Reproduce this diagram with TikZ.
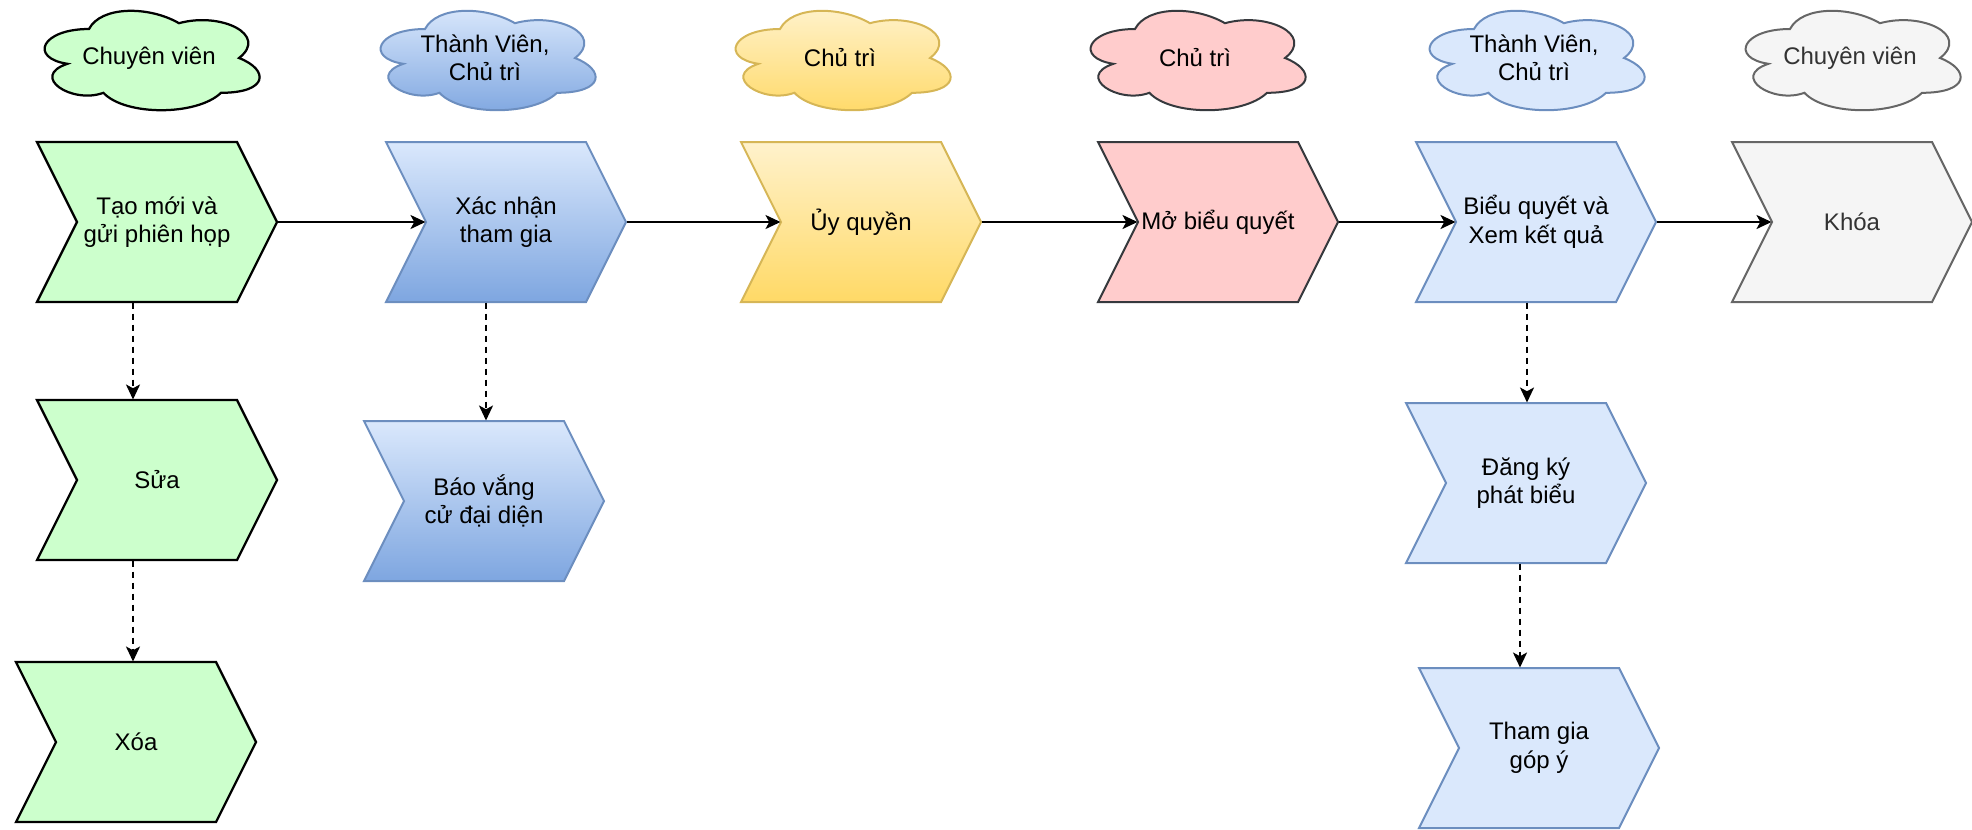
\documentclass[tikz,border=0pt]{standalone}
\usepackage{fontspec}
\setmainfont{Liberation Sans}
\usetikzlibrary{arrows.meta,calc}
\definecolor{cGreen}{HTML}{CCFFCC}
\definecolor{cBlueT}{HTML}{DAE8FC}
\definecolor{cBlueB}{HTML}{7EA6E0}
\definecolor{cBlueS}{HTML}{6C8EBF}
\definecolor{cYelT}{HTML}{FFF2CC}
\definecolor{cYelB}{HTML}{FFD966}
\definecolor{cYelS}{HTML}{D6B656}
\definecolor{cPink}{HTML}{FFCCCC}
\definecolor{cPinkS}{HTML}{36393D}
\definecolor{cLBlue}{HTML}{DAE8FC}
\definecolor{cGrey}{HTML}{F5F5F5}
\definecolor{cGreyS}{HTML}{666666}
\definecolor{cGreyT}{HTML}{333333}
\newcommand{\MkChev}[5]{%
  \path[#4] (#2,#3) -- ++(200,0) -- ++(40,80) -- ++(-40,80) -- ++(-200,0) -- ++(40,-80) -- cycle;
  \node[chevtext] (#1) at ({#2+120},{#3+80}) {#5};
}
\newcommand{\MkCloud}[5]{%
  \begin{scope}[shift={(#2,#3)}]
  \path[#4] (60,29) .. controls (12,29) and (0,58) .. (38.4,63.8)
    .. controls (0,76.56) and (43.2,104.4) .. (74.4,92.8)
    .. controls (96,116) and (168,116) .. (192,92.8)
    .. controls (240,92.8) and (240,69.6) .. (210,58)
    .. controls (240,34.8) and (192,11.6) .. (150,23.2)
    .. controls (120,5.8) and (72,5.8) .. (60,29) -- cycle;
  \node[cloudtext] (#1) at (120,58) {#5};
  \end{scope}
}
\tikzset{
  gr/.style={fill=cGreen, draw=black, line width=0.9pt},
  bl/.style={top color=cBlueT, bottom color=cBlueB, draw=cBlueS, line width=0.8pt},
  ye/.style={top color=cYelT, bottom color=cYelB, draw=cYelS, line width=0.8pt},
  pk/.style={fill=cPink, draw=cPinkS, line width=0.8pt},
  lb/.style={fill=cLBlue, draw=cBlueS, line width=0.8pt},
  gy/.style={fill=cGrey, draw=cGreyS, line width=0.8pt},
  chevtext/.style={minimum width=96pt, minimum height=64pt, inner sep=0pt, align=center,
    font=\fontsize{9.6}{11.4}\selectfont},
  cloudtext/.style={inner sep=0pt, align=center, font=\fontsize{9.6}{11.4}\selectfont},
  flow/.style={line width=0.8pt, -{Stealth[length=6pt,width=5.6pt,inset=1.5pt]}},
  dflow/.style={line width=0.8pt, dash pattern=on 2.4pt off 2pt, -{Stealth[length=6pt,width=5.6pt,inset=1.5pt]}}
}
\begin{document}
\begin{tikzpicture}[x=0.4pt,y=-0.4pt]
\useasboundingbox (0,0) rectangle (1972,829);
% clouds
\MkCloud{r1}{29}{0}{gr}{Chuyên viên}
\MkCloud{r2}{365}{0}{bl}{Thành Viên,\\Chủ trì}
\MkCloud{r3}{720}{0}{ye}{Chủ trì}
\MkCloud{r4}{1075}{0}{pk}{Chủ trì}
\MkCloud{r5}{1414}{0}{lb}{Thành Viên,\\Chủ trì}
\MkCloud{r6}{1730}{0}{gy}{\textcolor{cGreyT}{Chuyên viên}}
% chevrons
\MkChev{tao}{37}{142}{gr}{Tạo mới và\\gửi phiên họp}
\MkChev{xn}{386}{142}{bl}{Xác nhận\\tham gia}
\MkChev{uq}{741}{142}{ye}{Ủy quyền}
\MkChev{mo}{1098}{142}{pk}{Mở biểu quyết}
\MkChev{bq}{1416}{142}{lb}{Biểu quyết và\\Xem kết quả}
\MkChev{kh}{1732}{142}{gy}{\textcolor{cGreyT}{Khóa}}
\MkChev{sua}{37}{400}{gr}{Sửa}
\MkChev{xoa}{16}{662}{gr}{Xóa}
\MkChev{bv}{364}{421}{bl}{Báo vắng\\cử đại diện}
\MkChev{dk}{1406}{403}{lb}{Đăng ký\\phát biểu}
\MkChev{tg}{1419}{668}{lb}{Tham gia\\góp ý}
% solid connectors
\draw[flow] (tao.east) -- ([xshift=16pt]xn.west);
\draw[flow] (xn.east) -- ([xshift=16pt]uq.west);
\draw[flow] (uq.east) -- ([xshift=16pt]mo.west);
\draw[flow] (mo.east) -- ([xshift=16pt]bq.west);
\draw[flow] (bq.east) -- ([xshift=16pt]kh.west);
% dashed connectors
\draw[dflow] ([xshift=-9.6pt]tao.south) -- ([xshift=-9.6pt]tao.south |- sua.north);
\draw[dflow] ([xshift=-9.6pt]sua.south) -- ([xshift=-9.6pt]sua.south |- xoa.north);
\draw[dflow] ([xshift=-8pt]xn.south) -- ([xshift=-8pt]xn.south |- bv.north);
\draw[dflow] ([xshift=-3.6pt]bq.south) -- ([xshift=-3.6pt]bq.south |- dk.north);
\draw[dflow] ([xshift=-2.4pt]dk.south) -- ([xshift=-2.4pt]dk.south |- tg.north);
\end{tikzpicture}
\end{document}
